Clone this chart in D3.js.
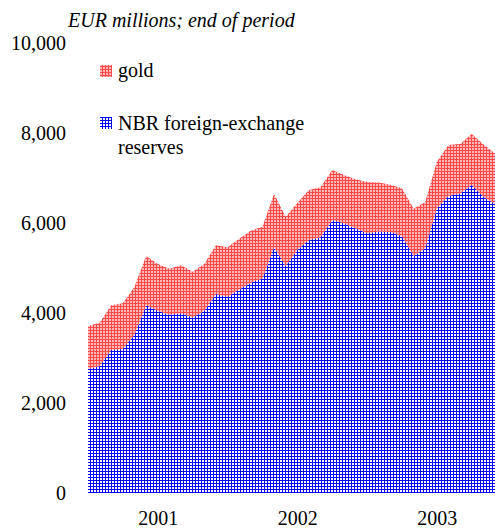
<!DOCTYPE html>
<html>
<head>
<meta charset="utf-8">
<script src="https://cdn.jsdelivr.net/npm/d3@7"></script>
<style>
  html, body { margin: 0; padding: 0; background: #fff; }
  svg { display: block; }
  svg text { font-family: 'Liberation Serif', Tinos, 'Times New Roman', Times, serif !important; fill: #000; }
</style>
</head>
<body>
<svg id="chart" width="495" height="530"></svg>
<script>
// Months: Jul 2000 .. Jun 2003 (EUR millions, end of period)
const months = [
  "2000-07","2000-08","2000-09","2000-10","2000-11","2000-12",
  "2001-01","2001-02","2001-03","2001-04","2001-05","2001-06",
  "2001-07","2001-08","2001-09","2001-10","2001-11","2001-12",
  "2002-01","2002-02","2002-03","2002-04","2002-05","2002-06",
  "2002-07","2002-08","2002-09","2002-10","2002-11","2002-12",
  "2003-01","2003-02","2003-03","2003-04","2003-05","2003-06"
];
const fxReserves = [
  2760,2825,3180,3210,3520,4175,4055,3965,4000,3905,4055,4425,
  4365,4530,4680,4770,5465,5050,5405,5630,5690,6075,6000,5890,
  5780,5815,5805,5715,5275,5445,6335,6605,6665,6850,6590,6430
];
const gold = [
  955,965,995,1010,1070,1100,1040,1025,1065,1015,1040,1085,
  1100,1125,1155,1155,1185,1095,1045,1110,1110,1110,1075,1090,
  1140,1090,1055,1065,1050,1030,1035,1135,1100,1135,1170,1125
];
const yTicks = [0, 2000, 4000, 6000, 8000, 10000];
const xTickMonths = ["2001-01","2002-01","2003-01"];
const xTickLabels = ["2001","2002","2003"];

const FONT = "'Liberation Serif', Tinos, 'Times New Roman', Times, serif";

const svg = d3.select("#chart");
const defs = svg.append("defs");

// blue grid pattern
const pb = defs.append("pattern").attr("id","patBlue").attr("patternUnits","userSpaceOnUse")
  .attr("width",3).attr("height",3);
pb.append("rect").attr("width",3).attr("height",3).attr("fill","#ffffff");
pb.append("rect").attr("x",0).attr("y",0).attr("width",3).attr("height",1).attr("fill","#0000ff");
pb.append("rect").attr("x",0).attr("y",0).attr("width",1).attr("height",3).attr("fill","#0000ff");

// red grid pattern
const pr = defs.append("pattern").attr("id","patRed").attr("patternUnits","userSpaceOnUse")
  .attr("width",3).attr("height",3);
pr.append("rect").attr("width",3).attr("height",3).attr("fill","#ffb8b8");
pr.append("rect").attr("x",0).attr("y",0).attr("width",3).attr("height",1).attr("fill","#ff4a4a");
pr.append("rect").attr("x",0).attr("y",0).attr("width",1).attr("height",3).attr("fill","#ff4a4a");

const x = d3.scalePoint().domain(months).range([88, 495]);
const y = d3.scaleLinear().domain([0, 10000]).range([493, 43.5]);

const data = months.map((m, i) => ({ m, fx: fxReserves[i], gold: gold[i] }));
const stack = d3.stack().keys(["fx", "gold"]);
const layers = stack(data);
const fills = { fx: "url(#patBlue)", gold: "url(#patRed)" };

const area = d3.area()
  .x(d => x(d.data.m))
  .y0(d => y(d[0]))
  .y1(d => y(d[1]));

svg.append("g").selectAll("path").data(layers).join("path")
  .attr("d", area)
  .attr("fill", d => fills[d.key])
  .attr("stroke", "none");

// Y axis (labels only)
const yAxis = d3.axisLeft(y).tickValues(yTicks).tickFormat(d3.format(",")).tickSize(0).tickPadding(0);
const yg = svg.append("g").attr("transform", "translate(66,0)").call(yAxis);
yg.attr("font-family", null).attr("font-size", null);
yg.select(".domain").remove();
yg.selectAll("text").style("font-family", FONT).style("font-size", "20px").attr("fill","#000");

// X axis labels
const xAxis = d3.axisBottom(x).tickValues(xTickMonths)
  .tickFormat((d) => xTickLabels[xTickMonths.indexOf(d)]).tickSize(0).tickPadding(0);
const xg = svg.append("g").attr("transform", "translate(0,511)").call(xAxis);
xg.attr("font-family", null).attr("font-size", null);
xg.select(".domain").remove();
xg.selectAll("text").style("font-family", FONT).style("font-size", "20px").attr("fill","#000");

// Unit title
svg.append("text").attr("x", 68).attr("y", 27)
  .style("font-family", FONT).style("font-size", "20px").style("font-style", "italic")
  .text("EUR millions; end of period");

// Legend
svg.append("rect").attr("x", 100).attr("y", 65).attr("width", 12).attr("height", 12).attr("fill", "url(#patRed)");
svg.append("text").attr("x", 118).attr("y", 77).style("font-family", FONT).style("font-size", "20px").text("gold");
svg.append("rect").attr("x", 100).attr("y", 117).attr("width", 12).attr("height", 12).attr("fill", "url(#patBlue)");
const lt = svg.append("text").attr("x", 118).attr("y", 130).style("font-family", FONT).style("font-size", "20px");
lt.append("tspan").attr("x", 118).text("NBR foreign-exchange");
lt.append("tspan").attr("x", 118).attr("dy", 24).text("reserves");
</script>
</body>
</html>
